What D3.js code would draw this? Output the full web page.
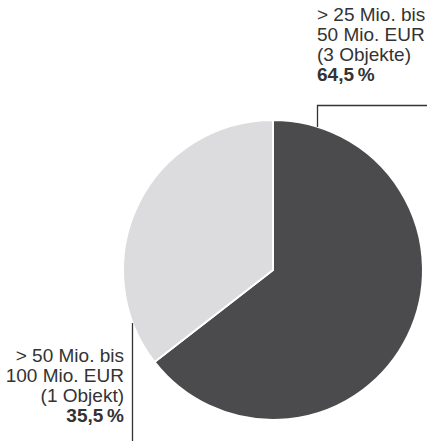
<!DOCTYPE html>
<html>
<head>
<meta charset="utf-8">
<script src="https://cdn.jsdelivr.net/npm/d3@7"></script>
<style>
  html, body { margin: 0; padding: 0; background: #fff; }
  svg { display: block; }
  text { font-family: "Liberation Sans", Arial, Helvetica, sans-serif; fill: #333; }
</style>
</head>
<body>
<svg id="chart" width="427" height="441"></svg>
<script>
// Data
const categories = ["> 25 Mio. bis 50 Mio. EUR", "> 50 Mio. bis 100 Mio. EUR"];
const labelLines = [
  ["> 25 Mio. bis", "50 Mio. EUR", "(3 Objekte)"],
  ["> 50 Mio. bis", "100 Mio. EUR", "(1 Objekt)"]
];
const values = [64.5, 35.5];
const percentLabels = ["64,5\u2009%", "35,5\u2009%"];
const colors = ["#4b4b4d", "#dcdcde"];

const svg = d3.select("#chart");
const cx = 273, cy = 270, r = 150;

const pie = d3.pie().sort(null).value(d => d)(values);
const arc = d3.arc().innerRadius(0).outerRadius(r);

const g = svg.append("g").attr("transform", `translate(${cx},${cy})`);
g.selectAll("path").data(pie).join("path")
  .attr("d", arc)
  .attr("fill", (d, i) => colors[i])
  .attr("stroke", "#fff")
  .attr("stroke-width", 2)
  .attr("stroke-linejoin", "round");

// Leader lines
const lineColor = "#333";
svg.append("path")
  .attr("d", "M317.5,127 V105.5 H427")
  .attr("fill", "none").attr("stroke", lineColor).attr("stroke-width", 1.3);
svg.append("path")
  .attr("d", "M132.5,323 V441")
  .attr("fill", "none").attr("stroke", lineColor).attr("stroke-width", 1.3);

const fs = 19, lh = 20;
function label(x, y0, anchor, lines, pct) {
  const t = svg.append("text").attr("text-anchor", anchor).style("font-size", fs + "px");
  lines.forEach((l, i) => {
    t.append("tspan").attr("x", x).attr("y", y0 + i * lh).text(l);
  });
  t.append("tspan").attr("x", x).attr("y", y0 + lines.length * lh)
    .style("font-weight", "bold").text(pct);
}
label(317, 21, "start", labelLines[0], percentLabels[0]);
label(124, 362, "end", labelLines[1], percentLabels[1]);
</script>
</body>
</html>
